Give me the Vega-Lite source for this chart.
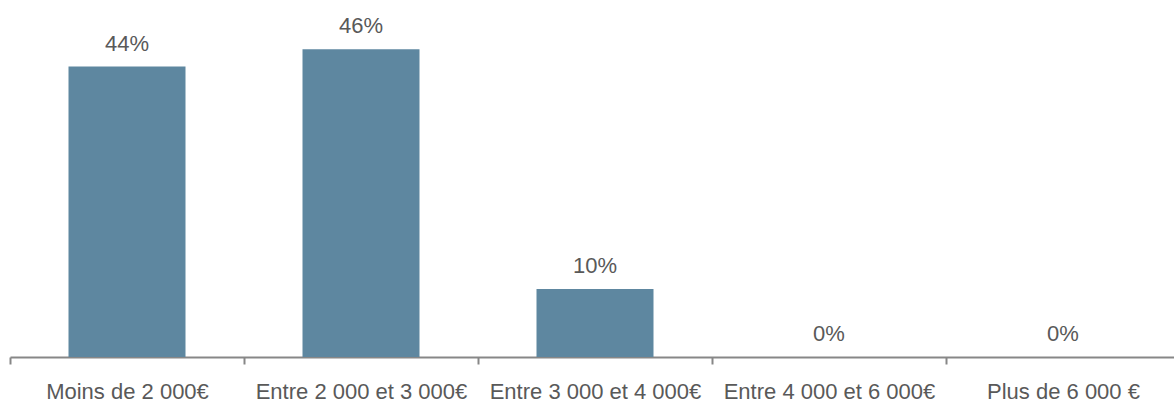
{
  "$schema": "https://vega.github.io/schema/vega-lite/v6.json",
  "autosize": {"type": "none"},
  "padding": {"left": 10, "top": 0, "right": 0, "bottom": 46},
  "width": 1170,
  "height": 357,
  "background": "white",
  "config": {"view": {"stroke": null}},
  "data": {
    "values": [
      {"categorie": "Moins de 2 000€", "part": 0.436},
      {"categorie": "Entre 2 000 et 3 000€", "part": 0.462},
      {"categorie": "Entre 3 000 et 4 000€", "part": 0.102},
      {"categorie": "Entre 4 000 et 6 000€", "part": 0.0},
      {"categorie": "Plus de 6 000 €", "part": 0.0}
    ]
  },
  "encoding": {
    "x": {
      "field": "categorie",
      "type": "nominal",
      "sort": null,
      "scale": {"paddingInner": 0, "paddingOuter": 0},
      "axis": {
        "title": null,
        "labelAngle": 0,
        "labelFont": "Liberation Sans",
        "labelFontSize": 22,
        "labelColor": "#595959",
        "labelBaseline": "alphabetic",
        "labelPadding": 34,
        "labelLimit": 0,
        "tickBand": "extent",
        "tickSize": 7,
        "tickWidth": 2,
        "tickColor": "#878787",
        "domainColor": "#878787",
        "domainWidth": 2,
        "labelOverlap": false
      }
    },
    "y": {
      "field": "part",
      "type": "quantitative",
      "scale": {"domain": [0, 0.536], "nice": false},
      "axis": null
    }
  },
  "layer": [
    {"mark": {"type": "bar", "color": "#5E87A0", "width": {"band": 0.5}}},
    {
      "mark": {
        "type": "text",
        "baseline": "alphabetic",
        "dy": -16,
        "font": "Liberation Sans",
        "fontSize": 22,
        "color": "#595959"
      },
      "encoding": {"text": {"field": "part", "type": "quantitative", "format": ".0%"}}
    }
  ]
}
